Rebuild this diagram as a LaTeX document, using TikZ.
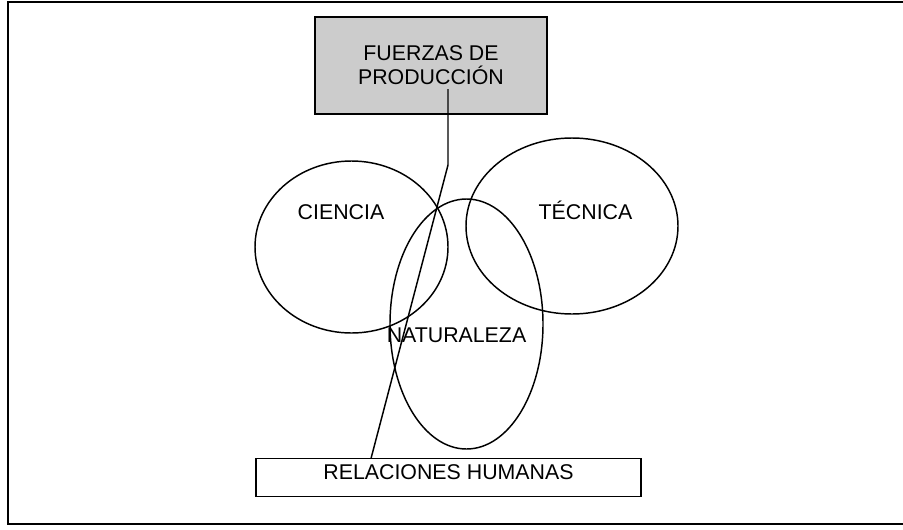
\documentclass[tikz,border=0pt]{standalone}
\usepackage{fontspec}
\setmainfont{Liberation Sans}
\usetikzlibrary{shapes.geometric}
\begin{document}
\begin{tikzpicture}[x=0.75pt,y=-0.75pt,inner sep=0pt,outer sep=0pt,line width=1.1pt,
font=\fontsize{16}{18}\selectfont,
venn/.style={draw,ellipse,inner sep=0pt},
lbl/.style={anchor=base},
textbox/.style={draw,rectangle,inner sep=0pt}]
\useasboundingbox (0,0) rectangle (903,529);
% frame, open to the right
\draw[line width=1.5pt] (903,2) -| (8,524) -- (903,524);

\draw (431,65) node[textbox,fill=black!20,line width=1.5pt,minimum width=174pt,minimum height=72.75pt,align=center] (fp) {FUERZAS DE\\PRODUCCIÓN};

\draw (351.5,247) node[venn,minimum width=144.75pt,minimum height=129pt] (ciencia) {};
\draw (572,226) node[venn,minimum width=159pt,minimum height=132pt] (tecnica) {};
\draw (466.5,324) node[venn,minimum width=114.75pt,minimum height=187.5pt] (naturaleza) {};
\draw (341,219) node[lbl] (cienciatxt) {CIENCIA};
\draw (585.5,219) node[lbl] (tecnicatxt) {TÉCNICA};
\draw (456.5,342) node[lbl] (naturalezatxt) {NATURALEZA};

\draw (448.5,477.5) node[textbox,minimum width=288.75pt,minimum height=28.5pt,text depth=8pt] (rel) {RELACIONES HUMANAS};

\coordinate (tail) at (448,89);
\coordinate (kink) at (448,165);
\coordinate (head) at (371,458.5);
\draw (tail) -- (kink) -- (head);
\end{tikzpicture}
\end{document}
